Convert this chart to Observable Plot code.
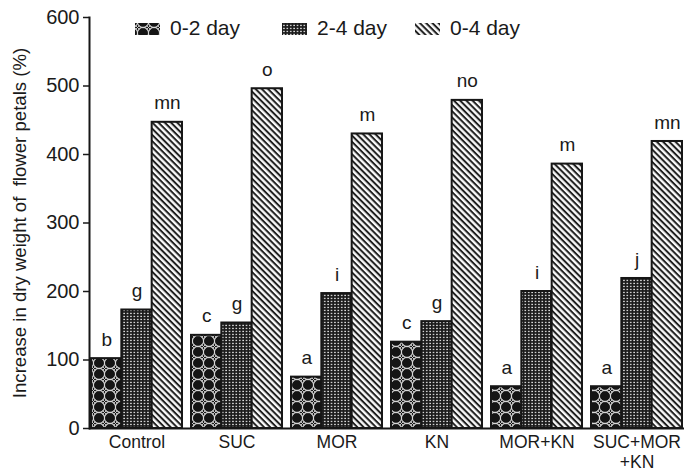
<!DOCTYPE html>
<html><head><meta charset="utf-8">
<script src="https://cdn.jsdelivr.net/npm/d3@7"></script>
<script src="https://cdn.jsdelivr.net/npm/@observablehq/plot@0.6"></script>
<style>body{margin:0;background:#fff}</style>
</head><body><div id="chart"></div>
<script>
// Treatments and their axis labels
const treatments = ["Control", "SUC", "MOR", "KN", "MOR+KN", "SUC+MOR+KN"];
const treatmentLabels = ["Control", "SUC", "MOR", "KN", "MOR+KN", "SUC+MOR\n+KN"];
const seriesNames = ["0-2 day", "2-4 day", "0-4 day"];

// Increase in dry weight of flower petals (%)
const day0to2 = [102, 136, 75, 126, 61, 61];
const day2to4 = [173, 154, 197, 156, 200, 219];
const day0to4 = [447, 496, 430, 479, 386, 419];

// Significance letters above each bar
const letters0to2 = ["b", "c", "a", "c", "a", "a"];
const letters2to4 = ["g", "g", "i", "g", "i", "j"];
const letters0to4 = ["mn", "o", "m", "no", "m", "mn"];

const yTicks = [0, 100, 200, 300, 400, 500, 600];

const W = 692, H = 474;
const mL = 89, mR = 8, mT = 17, mB = 46;
const FONT = "Liberation Sans, Arial, sans-serif";

const seriesValues = [day0to2, day2to4, day0to4];
const seriesLetters = [letters0to2, letters2to4, letters0to4];
const patternIds = ["pat-a", "pat-b", "pat-c"];

const rowsFor = (s) => treatments.map((t, j) => ({t, v: seriesValues[s][j], l: seriesLetters[s][j]}));

// Same band layout the x scale will use, to split each group into three bars
const pIn = 0.09, pOut = 0.02;
const bw = d3.scaleBand().domain(treatments).range([mL, W - mR]).paddingInner(pIn).paddingOuter(pOut).bandwidth();
const third = bw / 3;

const marks = [];
seriesNames.forEach((name, s) => {
  marks.push(Plot.barY(rowsFor(s), {
    x: "t", y: "v",
    fill: `url(#${patternIds[s]})`,
    stroke: "#161616", strokeWidth: 2,
    insetLeft: s * third, insetRight: (2 - s) * third
  }));
  marks.push(Plot.text(rowsFor(s), {
    x: "t", y: "v", text: "l",
    dx: (s - 1) * third, dy: -19,
    fontSize: 19, fill: "#1a1a1a"
  }));
});

const chart = Plot.plot({
  width: W, height: H,
  marginLeft: mL, marginRight: mR, marginTop: mT, marginBottom: mB,
  style: {fontFamily: FONT, background: "#fff", color: "#1a1a1a"},
  x: {type: "band", domain: treatments, paddingInner: pIn, paddingOuter: pOut, axis: null},
  y: {domain: [0, 600], axis: null},
  marks: [
    ...marks,
    Plot.axisX({
      tickSize: 0, tickPadding: 6, fontSize: 17.5,
      tickFormat: (d) => treatmentLabels[treatments.indexOf(d)],
      lineHeight: 1.12, label: null
    }),
    Plot.axisY({ticks: yTicks, tickSize: 6, tickPadding: 4, fontSize: 20, label: null, strokeWidth: 1.5}),
    Plot.ruleY([0], {stroke: "#161616", strokeWidth: 2}),
    Plot.frame({anchor: "left", stroke: "#161616", strokeWidth: 2}),
    Plot.text(["Increase in dry weight of  flower petals (%)"], {
      frameAnchor: "left", textAnchor: "middle", rotate: -90, dx: -69,
      fontSize: 18.6, fill: "#1a1a1a"
    })
  ]
});

const svg = d3.select(chart);

// Fill patterns for the three periods
const defs = svg.insert("defs", ":first-child");

// 0-2 day: dark field with light interlocking rings
const pa = defs.append("pattern").attr("id", "pat-a").attr("patternUnits", "userSpaceOnUse")
  .attr("width", 11).attr("height", 11);
pa.append("rect").attr("width", 11).attr("height", 11).attr("fill", "#151515");
[[0, 0], [11, 0], [0, 11], [11, 11]].forEach(([cx, cy]) =>
  pa.append("circle").attr("cx", cx).attr("cy", cy).attr("r", 5.6)
    .attr("fill", "none").attr("stroke", "#d8d8d8").attr("stroke-width", 1.1));
pa.append("path").attr("d", "M3.5,3.5L7.5,7.5M7.5,3.5L3.5,7.5").attr("stroke", "#cfcfcf").attr("stroke-width", 0.9);

// 2-4 day: dark field with a fine grid of light dots
const pb = defs.append("pattern").attr("id", "pat-b").attr("patternUnits", "userSpaceOnUse")
  .attr("width", 3.4).attr("height", 3);
pb.append("rect").attr("width", 3.4).attr("height", 3).attr("fill", "#1b1b1b");
pb.append("rect").attr("x", 1).attr("y", 0.8).attr("width", 1.5).attr("height", 1.3).attr("fill", "#e6e6e6");

// 0-4 day: diagonal hatching
const pc = defs.append("pattern").attr("id", "pat-c").attr("patternUnits", "userSpaceOnUse")
  .attr("width", 4.4).attr("height", 4.4).attr("patternTransform", "rotate(45)");
pc.append("rect").attr("width", 4.4).attr("height", 4.4).attr("fill", "#fafafa");
pc.append("rect").attr("x", 0).attr("y", 0).attr("width", 4.4).attr("height", 2).attr("fill", "#202020");

// Legend along the top
const legendX = [135, 282, 415];
const legend = svg.append("g").attr("font-family", FONT).attr("font-size", 21)
  .attr("fill", "#1a1a1a").attr("text-anchor", "start");
seriesNames.forEach((name, s) => {
  legend.append("rect").attr("x", legendX[s]).attr("y", 23).attr("width", 25).attr("height", 12)
    .attr("fill", `url(#${patternIds[s]})`);
  legend.append("text").attr("x", legendX[s] + 35).attr("y", 35).text(name);
});

document.getElementById("chart").append(chart);
</script>
</body></html>
